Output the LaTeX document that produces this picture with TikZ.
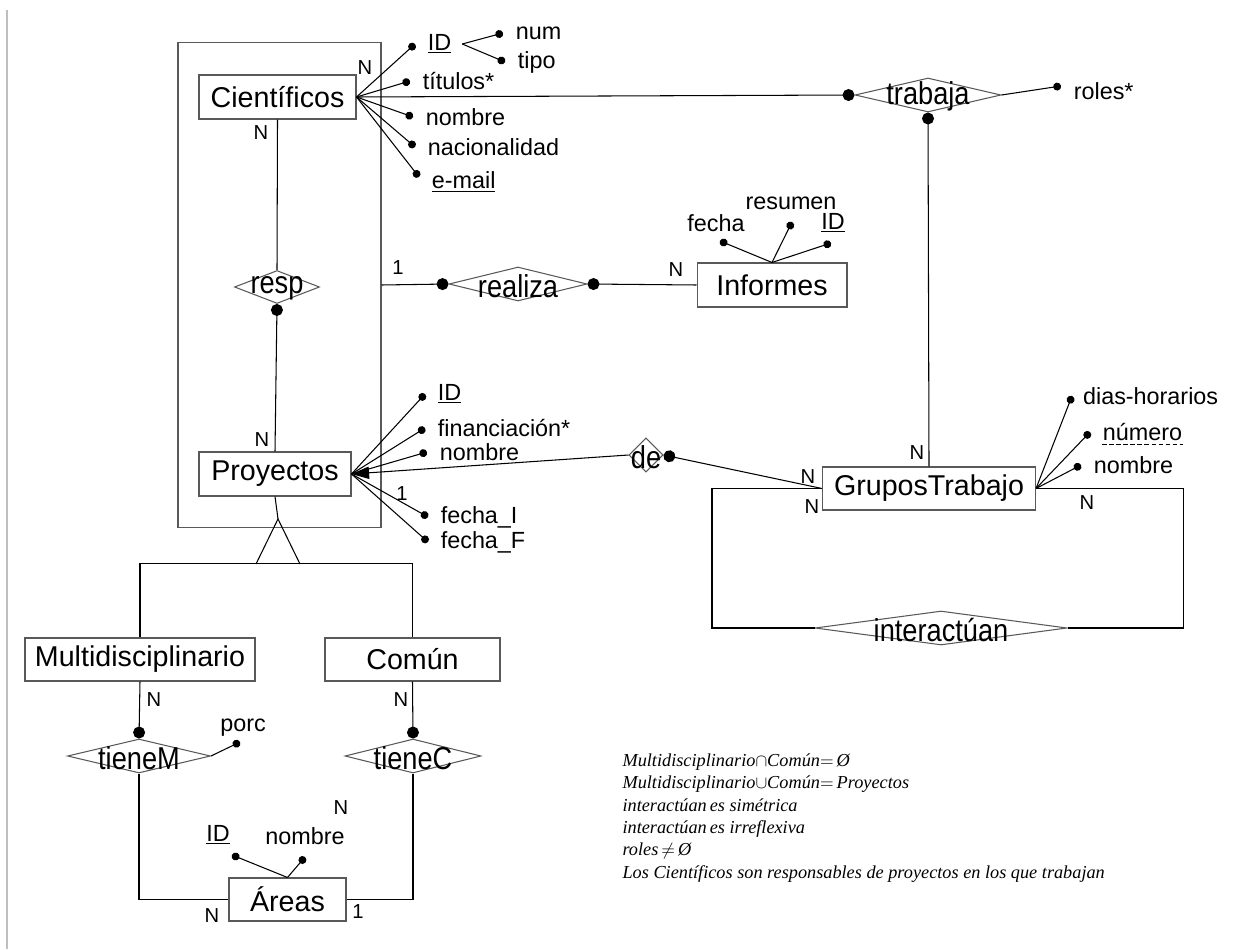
\documentclass[tikz,border=0pt]{standalone}
\usepackage{fontspec}
\setmainfont{Liberation Sans}
\newfontfamily\notafont{Liberation Serif}
\newfontfamily\relfamily[FakeStretch=0.86]{Liberation Sans}
\usetikzlibrary{shapes.geometric,arrows.meta,positioning}

\begin{document}
\begin{tikzpicture}[x=0.02cm,y=-0.02cm,line width=0.6pt,
  entidad/.style={draw=black!65,rectangle,inner sep=0pt,font=\fontsize{16.3}{19}\selectfont},
  relfont/.style={font=\relfamily\fontsize{18}{20}\selectfont,inner sep=0pt,yshift=-1pt},
  relacion/.style={draw=black!65,diamond,inner sep=0pt,minimum height=0.68cm,label={[relfont]center:#1}},
  atrib/.style={font=\fontsize{13.3}{15}\selectfont,inner sep=1pt},
  card/.style={font=\fontsize{11.5}{13}\selectfont,inner sep=0pt},
  punto/.style={-{Circle[length=6.8pt]}},
  puntito/.style={-{Circle[length=4.5pt]}},
  flecha/.style={-{Triangle[length=10pt,width=7pt]}}]
\useasboundingbox (0,0) rectangle (1256,949);
\draw[black!25] (7,10) -- (7,949);

% agregacion
\node[draw=black!65,minimum width=4.06cm,minimum height=9.72cm,inner sep=0pt] (agreg) at (279.5,285) {};

% entidades
\node[entidad,minimum width=3.14cm,minimum height=0.88cm] (cientificos) at (277.5,97) {Científicos};
\node[entidad,minimum width=3.04cm,minimum height=0.88cm] (proyectos) at (275,474) {Proyectos};
\node[entidad,minimum width=3.0cm,minimum height=0.88cm] (informes) at (772,285) {Informes};
\node[entidad,minimum width=4.26cm,minimum height=0.86cm] (grupos) at (929,488.5) {GruposTrabajo};
\node[entidad,minimum width=4.6cm,minimum height=0.86cm] (multi) at (140,659.5) {Multidisciplinario};
\node[entidad,minimum width=3.5cm,minimum height=0.86cm] (comun) at (412.5,659.5) {Común};
\node[entidad,minimum width=2.34cm,minimum height=0.86cm] (areas) at (287.5,899.5) {Áreas};

% relaciones
\node[relacion=trabaja,minimum width=2.92cm] (trabaja) at (928,95) {};
\node[relacion=resp,minimum width=1.7cm,minimum height=0.66cm] (resp) at (277,287) {};
\node[relacion=realiza,minimum width=2.76cm] (realiza) at (518,284) {};
\node[relacion=de,minimum width=0.68cm] (de) at (646,455) {};
\node[relacion=interactúan,minimum width=5.04cm] (interact) at (941,628) {};
\node[relacion=tieneM,minimum width=2.86cm] (tieneM) at (139,756) {};
\node[relacion=tieneC,minimum width=2.72cm] (tieneC) at (413,756) {};

% conexiones
\draw[punto] (cientificos.east) -- (trabaja.west);
\draw[punto] (grupos.north) -- (trabaja.south);
\draw (cientificos.south) -- (resp.north);
\draw[punto] (proyectos.north) -- (resp.south);
\draw[punto] (agreg.east) -- (realiza.west);
\draw[punto] (informes.west) -- (realiza.east);
\draw[flecha] (de.west) -- (proyectos.east);
\draw[punto] (grupos.west) -- (de.east);
\draw (grupos.west) -- ++(-110,0) |- (interact.west);
\draw (grupos.east) -- ++(147,0) |- (interact.east);
\draw[punto] (multi.south) -- (tieneM.north);
\draw[punto] (comun.south) -- (tieneC.north);
\draw (tieneM.south) |- (areas.west);
\draw (tieneC.south) |- (areas.east);

% jerarquia
\coordinate (isa) at (278,519);
\coordinate (isaL) at (256,564);
\coordinate (isaR) at (300,564);
\draw (proyectos.south) -- (isa);
\draw (isaL) -- (isa) -- (isaR);
\draw (multi.north) -- ++(0,-74) -| (comun.north);

% atributos Cientificos
\coordinate (c_id) at (415,44);
\coordinate (c_tit) at (410,81);
\coordinate (c_nom) at (413,117);
\coordinate (c_nac) at (415,147);
\coordinate (c_mail) at (419,177);
\node[atrib,right=6pt of c_id] (t_id) {\underline{ID}};
\node[atrib,right=6pt of c_tit] (t_tit) {títulos*};
\node[atrib,right=6pt of c_nom] (t_nom) {nombre};
\node[atrib,right=6pt of c_nac] (t_nac) {nacionalidad};
\node[atrib,right=6pt of c_mail,yshift=-3pt] (t_mail) {\underline{e-mail}};
\foreach \a in {c_id,c_tit,c_nom,c_nac,c_mail}
  \draw[puntito] (cientificos.east) -- (\a);
\coordinate (c_num) at (503,33);
\coordinate (c_tipo) at (505,62);
\node[atrib,right=6pt of c_num] (t_num) {num};
\node[atrib,right=6pt of c_tipo] (t_tipo) {tipo};
\draw[puntito] ([xshift=5pt]t_id.east) -- (c_num);
\draw[puntito] ([xshift=5pt]t_id.east) -- (c_tipo);

% atributos trabaja
\coordinate (r_roles) at (1061,86);
\node[atrib,right=6pt of r_roles,yshift=-3pt] (t_roles) {roles*};
\draw[puntito] (trabaja.east) -- (r_roles);

% atributos Informes
\coordinate (i_fecha) at (720,241);
\coordinate (i_res) at (792,222);
\coordinate (i_id) at (831,243);
\node[atrib] (t_fecha) at (716,223) {fecha};
\node[atrib] (t_res) at (791,203) {resumen};
\node[atrib] (t_idI) at (833,223) {\underline{ID}};
\foreach \a in {i_fecha,i_res,i_id}
  \draw[puntito] (informes.north) -- (\a);

% atributos Proyectos
\coordinate (p_id) at (425,394);
\coordinate (p_fin) at (425,428);
\coordinate (p_nom) at (427,452);
\coordinate (p_fi) at (428,517);
\coordinate (p_ff) at (428,542);
\node[atrib,right=6pt of p_id] (t_pid) {\underline{ID}};
\node[atrib,right=6pt of p_fin] (t_pfin) {financiación*};
\node[atrib,right=6pt of p_nom] (t_pnom) {nombre};
\node[atrib,right=6pt of p_fi] (t_pfi) {fecha\_I};
\node[atrib,right=6pt of p_ff] (t_pff) {fecha\_F};
\foreach \a in {p_id,p_fin,p_nom,p_fi,p_ff}
  \draw[puntito] (proyectos.east) -- (\a);

% atributos GruposTrabajo
\coordinate (g_dias) at (1072,396);
\coordinate (g_num) at (1090,432);
\coordinate (g_nom) at (1081,465);
\node[atrib,right=5pt of g_dias] (t_gdias) {dias-horarios};
\node[atrib,right=6pt of g_num] (t_gnum) {número};
\node[atrib,right=6pt of g_nom] (t_gnom) {nombre};
\draw[dash pattern=on 2.5pt off 1.5pt,line width=0.5pt] ([xshift=1pt,yshift=-2.5pt]t_gnum.base west) -- ([xshift=-1pt,yshift=-2.5pt]t_gnum.base east);
\foreach \a in {g_dias,g_num,g_nom}
  \draw[puntito] (grupos.east) -- (\a);

% atributos tieneM y Areas
\coordinate (m_porc) at (240,742);
\node[atrib] (t_porc) at (243,728) {porc};
\draw[puntito] (tieneM.east) -- (m_porc);
\coordinate (a_id) at (232,855);
\coordinate (a_nom) at (305,857);
\node[atrib] (t_aid) at (218,835) {\underline{ID}};
\node[atrib] (t_anom) at (305,836) {nombre};
\draw[puntito] (areas.north) -- (a_id);
\draw[puntito] (areas.north) -- (a_nom);

% cardinalidades
\node[card] at (365,68) {N};
\node[card] at (261,133) {N};
\node[card] at (398,268) {1};
\node[card] at (676,270) {N};
\node[card] at (262,440) {N};
\node[card] at (402,494) {1};
\node[card] at (917,453) {N};
\node[card] at (808,477) {N};
\node[card] at (812,507) {N};
\node[card] at (1087,503) {N};
\node[card] at (154,700) {N};
\node[card] at (401,700) {N};
\node[card] at (341,808) {N};
\node[card] at (212,916) {N};
\node[card] at (358,912) {1};

% restricciones
\node[anchor=north west,inner sep=0pt,align=left,font={\notafont\fontsize{10.4}{12.75}\selectfont\itshape}] (notas) at (622,753)
{Multidisciplinario$\cap$Común$=$\,Ø\\
Multidisciplinario$\cup$Común$=$\,Proyectos\\
interactúan\,es simétrica\\
interactúan\,es irreflexiva\\
roles\,$\neq$\,Ø\\
Los Científicos son responsables de proyectos en los que trabajan};
\end{tikzpicture}
\end{document}
